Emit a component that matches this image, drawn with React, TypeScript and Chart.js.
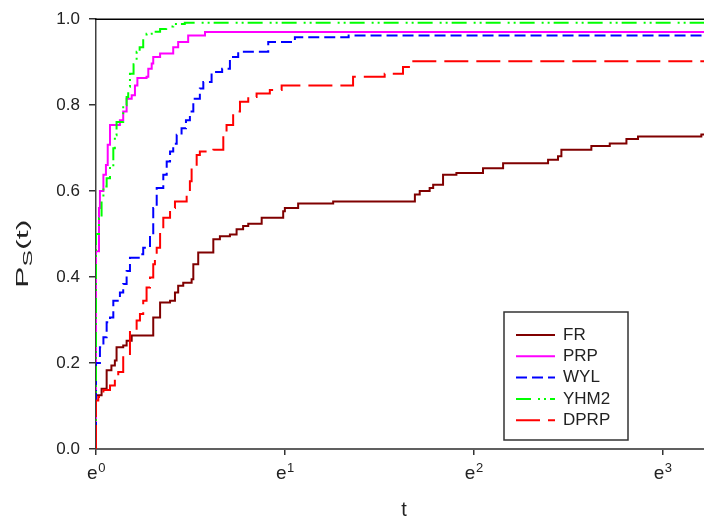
import React, { useEffect, useRef } from "react";
import { Chart, registerables } from "chart.js";

Chart.register(...registerables);

const SERIES_NAMES = ["FR", "PRP", "WYL", "YHM2", "DPRP"];

const FR_T = [1, 1, 1.03, 1.058, 1.085, 1.105, 1.115, 1.155, 1.176, 1.208, 1.354, 1.404, 1.48, 1.519, 1.545, 1.587, 1.659, 1.674, 1.718, 1.861, 1.927, 2.032, 2.105, 2.179, 2.239, 2.404, 2.694, 2.718, 2.916, 3.51, 5.41, 5.55, 5.85, 5.96, 6.28, 6.74, 7.76, 8.63, 10.95, 11.54, 11.75, 13.77, 15.18, 16.58, 17.63, 24.65, 25];
const FR_V = [0, 0.125, 0.14, 0.183, 0.194, 0.206, 0.237, 0.241, 0.252, 0.264, 0.306, 0.341, 0.345, 0.364, 0.38, 0.387, 0.395, 0.43, 0.457, 0.488, 0.495, 0.499, 0.511, 0.519, 0.524, 0.538, 0.553, 0.561, 0.571, 0.576, 0.592, 0.6, 0.607, 0.615, 0.638, 0.642, 0.653, 0.665, 0.673, 0.681, 0.696, 0.705, 0.711, 0.721, 0.727, 0.732, 0.732];

const PRP_T = [1, 1, 1.016, 1.021, 1.04, 1.054, 1.064, 1.077, 1.135, 1.155, 1.176, 1.208, 1.229, 1.245, 1.307, 1.319, 1.343, 1.354, 1.404, 1.505, 1.545, 1.629, 1.781, 25];
const PRP_V = [0, 0.46, 0.561, 0.6, 0.638, 0.661, 0.708, 0.754, 0.765, 0.785, 0.815, 0.823, 0.846, 0.863, 0.866, 0.885, 0.897, 0.912, 0.92, 0.935, 0.947, 0.962, 0.97, 0.97];

const WYL_T = [1, 1, 1.021, 1.04, 1.058, 1.077, 1.096, 1.135, 1.155, 1.176, 1.197, 1.262, 1.284, 1.331, 1.354, 1.379, 1.428, 1.454, 1.48, 1.505, 1.533, 1.573, 1.61, 1.644, 1.674, 1.733, 1.765, 1.844, 1.95, 2.032, 2.123, 2.489, 2.866, 3.81, 25];
const WYL_V = [0, 0.2, 0.237, 0.26, 0.295, 0.306, 0.345, 0.364, 0.384, 0.414, 0.445, 0.453, 0.468, 0.499, 0.561, 0.607, 0.638, 0.669, 0.692, 0.71, 0.731, 0.746, 0.765, 0.785, 0.815, 0.839, 0.854, 0.877, 0.885, 0.912, 0.924, 0.947, 0.958, 0.962, 0.962];

const YHM2_T = [1, 1, 1.016, 1.03, 1.04, 1.058, 1.077, 1.096, 1.105, 1.115, 1.155, 1.176, 1.186, 1.197, 1.22, 1.24, 1.26, 1.284, 1.307, 1.343, 1.404, 1.45, 1.505, 1.6, 25];
const YHM2_V = [0, 0.5, 0.537, 0.58, 0.611, 0.63, 0.66, 0.7, 0.73, 0.761, 0.8, 0.819, 0.843, 0.873, 0.895, 0.924, 0.935, 0.954, 0.966, 0.971, 0.977, 0.983, 0.989, 0.992, 0.992];

const DPRP_T = [1, 1, 1.012, 1.04, 1.077, 1.105, 1.125, 1.155, 1.197, 1.24, 1.262, 1.284, 1.307, 1.331, 1.354, 1.366, 1.379, 1.404, 1.428, 1.48, 1.519, 1.616, 1.644, 1.659, 1.704, 1.733, 1.861, 1.962, 1.996, 2.067, 2.143, 2.239, 2.34, 2.51, 2.672, 3.9, 4.61, 5.08, 5.27, 25];
const DPRP_V = [0, 0.113, 0.121, 0.137, 0.148, 0.171, 0.179, 0.218, 0.275, 0.299, 0.314, 0.345, 0.376, 0.399, 0.43, 0.441, 0.468, 0.507, 0.538, 0.561, 0.576, 0.6, 0.623, 0.653, 0.684, 0.692, 0.696, 0.731, 0.754, 0.785, 0.808, 0.819, 0.827, 0.835, 0.846, 0.866, 0.873, 0.889, 0.902, 0.902];

const Y_TICKS = [0, 0.2, 0.4, 0.6, 0.8, 1.0];
const X_TICK_EXPONENTS = [0, 1, 2, 3];
const X_MIN = 1;
const X_MAX = 25;

const COLORS = ["#800000", "#ff00ff", "#0000ff", "#00ff00", "#ff0000"];
const DASHES: number[][] = [[], [], [11, 5], [15, 7, 2, 4, 2, 4], [24, 8]];
const FONT = "Arial, 'Liberation Sans', sans-serif";

function toPoints(t: number[], v: number[]) {
  return t.map((x, i) => ({ x, y: v[i] }));
}

export default function App() {
  const ref = useRef<HTMLCanvasElement>(null);

  useEffect(() => {
    const canvas = ref.current;
    if (!canvas) return;
    const seriesT = [FR_T, PRP_T, WYL_T, YHM2_T, DPRP_T];
    const seriesV = [FR_V, PRP_V, WYL_V, YHM2_V, DPRP_V];

    const datasets = SERIES_NAMES.map((name, i) => ({
      label: name,
      data: toPoints(seriesT[i], seriesV[i]),
      borderColor: COLORS[i],
      backgroundColor: COLORS[i],
      borderWidth: 2,
      borderDash: DASHES[i],
      pointRadius: 0,
      stepped: true,
      fill: false,
      order: SERIES_NAMES.length - i,
    }));

    const decor = {
      id: "decor",
      beforeDatasetsDraw(chart: any) {
        const { ctx, chartArea } = chart;
        ctx.save();
        ctx.strokeStyle = "#000";
        ctx.lineWidth = 1.5;
        ctx.beginPath();
        ctx.moveTo(chartArea.left - 1, chartArea.top);
        ctx.lineTo(chartArea.right, chartArea.top);
        ctx.stroke();
        ctx.restore();
      },
      afterDraw(chart: any) {
        const { ctx, scales } = chart;
        const xs = scales.x;
        ctx.save();
        ctx.fillStyle = "#222";
        ctx.textBaseline = "alphabetic";
        ctx.textAlign = "left";
        // x tick labels e^k
        X_TICK_EXPONENTS.forEach((k) => {
          const px = xs.getPixelForValue(Math.exp(k));
          ctx.font = `19px ${FONT}`;
          const we = ctx.measureText("e").width;
          ctx.font = `13px ${FONT}`;
          const ws = ctx.measureText(String(k)).width;
          const x0 = px - (we + ws) / 2;
          ctx.font = `19px ${FONT}`;
          ctx.fillText("e", x0, 479);
          ctx.font = `13px ${FONT}`;
          ctx.fillText(String(k), x0 + we + 0.5, 472);
        });
        // x title
        ctx.font = `20px ${FONT}`;
        ctx.textAlign = "center";
        ctx.fillText("t", 404, 516);
        // y title
        ctx.save();
        ctx.translate(28, 288);
        ctx.rotate(-Math.PI / 2);
        ctx.scale(1.9, 1);
        ctx.textAlign = "left";
        ctx.font = `17px ${FONT}`;
        ctx.fillText("P", 0, 0);
        const wP = ctx.measureText("P").width;
        ctx.font = `13px ${FONT}`;
        ctx.fillText("S", wP, 4);
        const wS = ctx.measureText("S").width;
        ctx.font = `17px ${FONT}`;
        ctx.fillText("(t)", wP + wS, 0);
        ctx.restore();
        // legend
        const bx = 504, by = 312, bw = 124, bh = 128;
        ctx.fillStyle = "#fff";
        ctx.fillRect(bx, by, bw, bh);
        ctx.strokeStyle = "#333";
        ctx.lineWidth = 1.5;
        ctx.setLineDash([]);
        ctx.strokeRect(bx, by, bw, bh);
        SERIES_NAMES.forEach((name, i) => {
          const y = 335 + i * 21.3;
          ctx.strokeStyle = COLORS[i];
          ctx.lineWidth = 2;
          ctx.setLineDash(DASHES[i]);
          ctx.beginPath();
          ctx.moveTo(516, y);
          ctx.lineTo(555, y);
          ctx.stroke();
          ctx.setLineDash([]);
          ctx.fillStyle = "#222";
          ctx.font = `17px ${FONT}`;
          ctx.textAlign = "left";
          ctx.textBaseline = "middle";
          ctx.fillText(name, 563, y);
        });
        ctx.restore();
      },
    };

    const chart = new Chart(canvas, {
      type: "line",
      data: { datasets } as any,
      options: {
        animation: false,
        responsive: false,
        devicePixelRatio: 1,
        layout: { padding: { top: 17, left: 0, right: 0, bottom: 0 } },
        plugins: { legend: { display: false }, tooltip: { enabled: false } },
        scales: {
          x: {
            type: "logarithmic",
            min: X_MIN,
            max: X_MAX,
            afterBuildTicks: (s: any) => {
              s.ticks = X_TICK_EXPONENTS.map((k) => ({ value: Math.exp(k) }));
            },
            afterFit: (s: any) => {
              s.height = 69;
            },
            ticks: { display: false },
            grid: { drawOnChartArea: false, drawTicks: true, tickLength: 6, color: "#333", lineWidth: 1.5 },
            border: { display: true, color: "#606060", width: 2 },
          },
          y: {
            type: "linear",
            min: 0,
            max: 1,
            afterBuildTicks: (s: any) => {
              s.ticks = Y_TICKS.map((v) => ({ value: v }));
            },
            afterFit: (s: any) => {
              s.width = 96;
            },
            ticks: {
              callback: (v: any) => Number(v).toFixed(1),
              font: { family: FONT, size: 17 },
              color: "#222",
              padding: 9,
            },
            grid: { drawOnChartArea: false, drawTicks: true, tickLength: 7, color: "#333", lineWidth: 1.5 },
            border: { display: true, color: "#404040", width: 1.5 },
          },
        },
      } as any,
      plugins: [decor],
    });

    return () => chart.destroy();
  }, []);

  return (
    <div style={{ position: "absolute", left: 0, top: 0, width: 704, height: 518, background: "#fff" }}>
      <canvas ref={ref} width={704} height={518} style={{ display: "block" }} />
    </div>
  );
}
